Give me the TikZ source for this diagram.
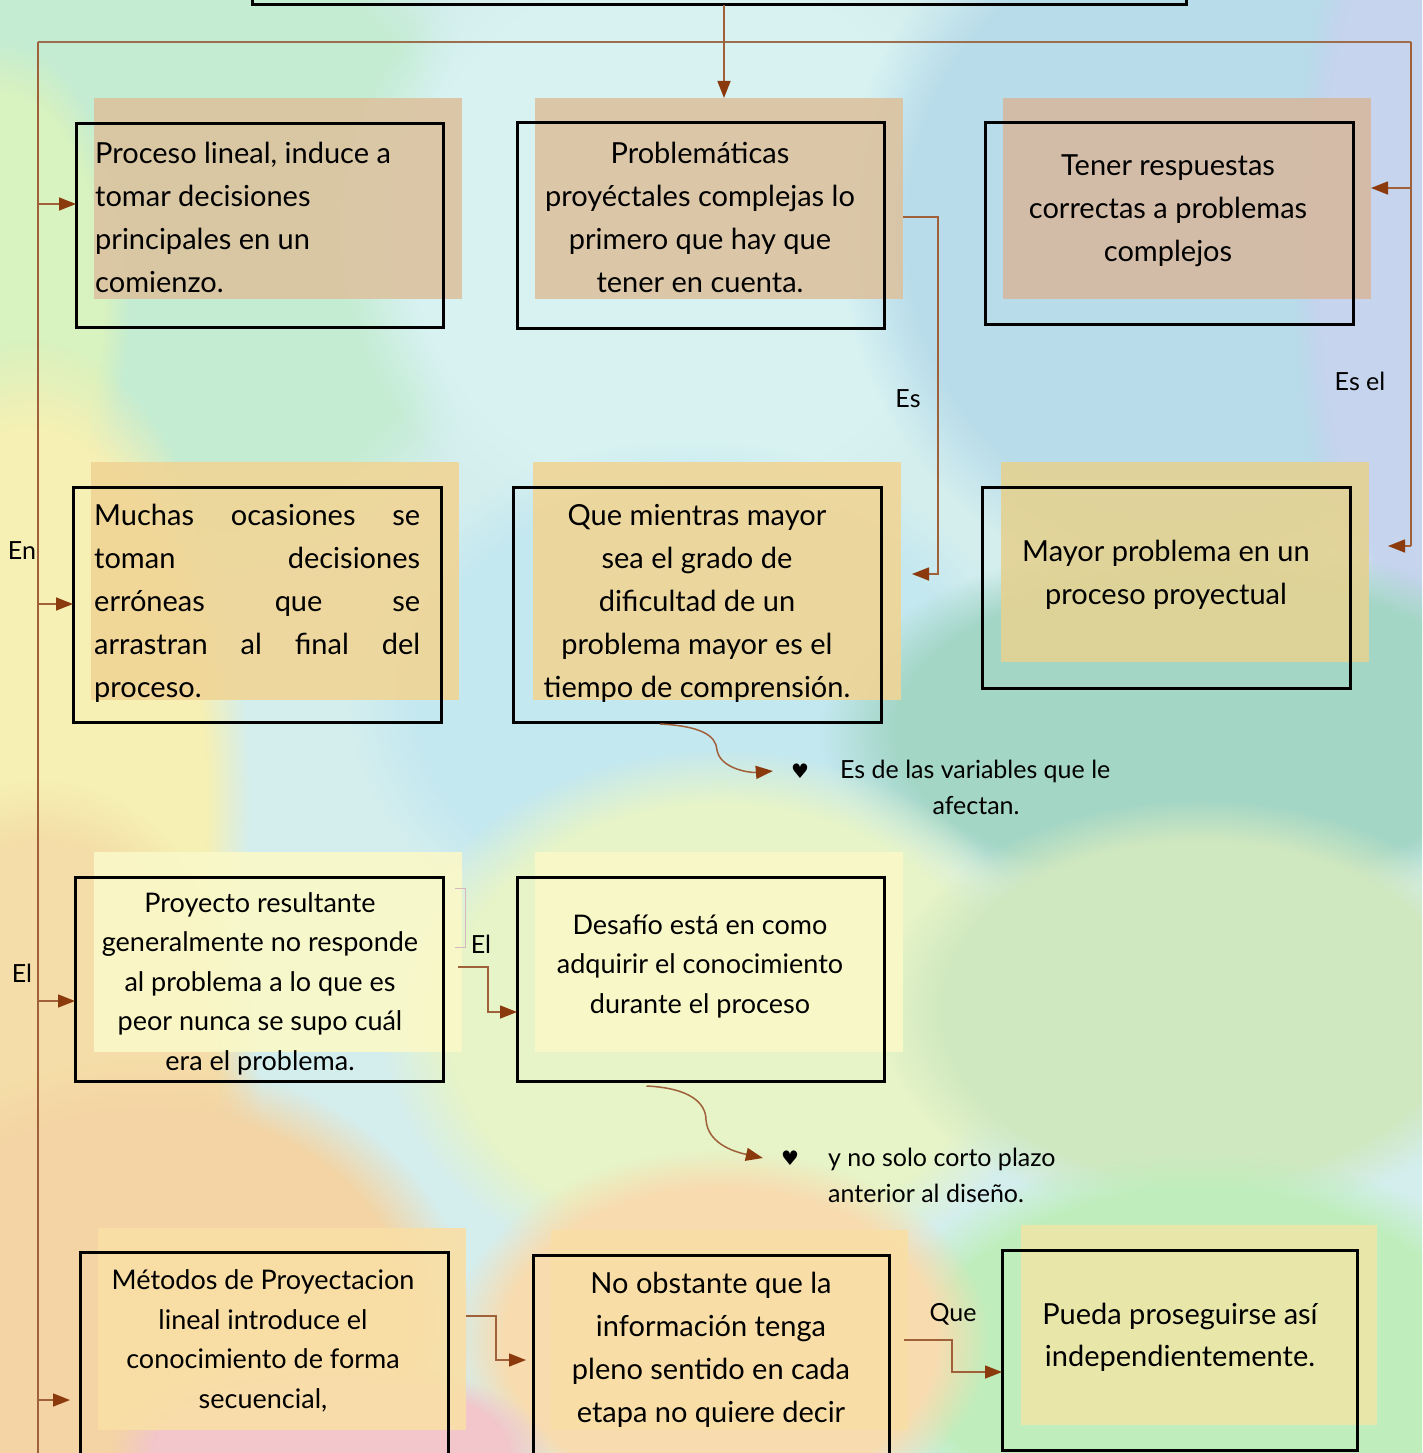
\documentclass[tikz,border=0pt]{standalone}
\usepackage{fontspec}
\setmainfont{Lato}
\newfontfamily\symf{DejaVu Sans}
\usetikzlibrary{arrows.meta,fadings}
\definecolor{bgbase}{HTML}{D4EEEE}
\definecolor{lbrown}{HTML}{A0603A}
\definecolor{tbrown}{HTML}{8B3A0E}
\definecolor{fTan}{HTML}{DCC3A0}
\definecolor{fTanR}{HTML}{D6B9A0}
\definecolor{fGold}{HTML}{F0D596}
\definecolor{fGoldR}{HTML}{E4D292}
\definecolor{fPale}{HTML}{FAF8C8}
\definecolor{fPeach}{HTML}{F9DFA6}
\definecolor{fPeachR}{HTML}{EDE7A8}
\definecolor{faintc}{HTML}{D6B6C0}
\definecolor{topline}{HTML}{9C6E4E}
\tikzset{
  blob/.style={fill=#1, path fading=circle with fuzzy edge 20 percent},
  fillr/.style={fill=#1, fill opacity=0.9, inner sep=0pt, outer sep=0pt, draw=none},
  box/.style={draw=black, line width=3pt, inner sep=0pt, outer sep=0pt},
  conn/.style={draw=lbrown, line width=1.5pt},
  arr/.style={conn, -{Triangle[length=17pt,width=13pt,color=tbrown]}},
  txt/.style={font=\fontsize{29}{43}\selectfont, align=center, inner sep=0pt},
  txtb/.style={font=\fontsize{27}{39.5}\selectfont, align=center, inner sep=0pt},
  lbl/.style={font=\fontsize{25}{28}\selectfont, inner sep=0pt},
  side/.style={font=\fontsize{25}{28}\selectfont, inner sep=0pt},
  heart/.style={font=\symf\fontsize{20}{22}\selectfont, inner sep=0pt}
}
\definecolor{bA}{HTML}{C4ECD2}
\definecolor{bB}{HTML}{D8F2C0}
\definecolor{bC}{HTML}{D8F2F2}
\definecolor{bD}{HTML}{B8DCEA}
\definecolor{bE}{HTML}{C6D4EE}
\definecolor{bF}{HTML}{C4E8F0}
\definecolor{bG}{HTML}{F6F0B4}
\definecolor{bH}{HTML}{A4D6C6}
\definecolor{bI}{HTML}{E6F4C8}
\definecolor{bJ}{HTML}{D0E8C0}
\definecolor{bK}{HTML}{BFEEBC}
\definecolor{bL}{HTML}{F4DDA8}
\definecolor{bM}{HTML}{F4D4A4}
\definecolor{bN}{HTML}{F8DCB0}
\definecolor{bO}{HTML}{F2C6CA}
\begin{document}
\begin{tikzpicture}[x=1pt,y=-1pt]
\useasboundingbox (0,0) rectangle (1422,1453);
\clip (0,0) rectangle (1422,1453);
% ---------- background ----------
\fill[bgbase] (0,0) rectangle (1422,1453);
\fill[blob=bA] (170,230) ellipse [x radius=360, y radius=360];
\fill[blob=bB] (0,300) ellipse [x radius=130, y radius=260];
\fill[blob=bC] (680,230) ellipse [x radius=340, y radius=330];
\fill[blob=bD] (1180,230) ellipse [x radius=340, y radius=360];
\fill[blob=bE] (1422,250) ellipse [x radius=130, y radius=420];
\fill[blob=bF] (690,700) ellipse [x radius=340, y radius=260];
\fill[blob=bG] (30,800) ellipse [x radius=220, y radius=460];
\fill[blob=bH] (1200,730) ellipse [x radius=380, y radius=190];
\fill[blob=bI] (720,1020) ellipse [x radius=340, y radius=270];
\fill[blob=bJ] (1200,1010) ellipse [x radius=320, y radius=210];
\fill[blob=bK] (1200,1360) ellipse [x radius=340, y radius=210];
\fill[blob=bL] (40,1100) ellipse [x radius=220, y radius=320];
\fill[blob=bM] (150,1320) ellipse [x radius=320, y radius=260];
\fill[blob=bN] (720,1340) ellipse [x radius=270, y radius=190];
\fill[blob=bO] (330,1450) ellipse [x radius=220, y radius=90];
% ---------- fill rectangles ----------
\node[fillr=fTan, minimum width=368pt, minimum height=201pt] (f1) at (278,198.5) {};
\node[fillr=fTan, minimum width=368pt, minimum height=201pt] (f2) at (719,198.5) {};
\node[fillr=fTanR, minimum width=368pt, minimum height=201pt] (f3) at (1187,198.5) {};
\node[fillr=fGold, minimum width=368pt, minimum height=238pt] (f4) at (275,581) {};
\node[fillr=fGold, minimum width=368pt, minimum height=238pt] (f5) at (717,581) {};
\node[fillr=fGoldR, minimum width=368pt, minimum height=200pt] (f6) at (1185,562) {};
\node[fillr=fPale, minimum width=368pt, minimum height=200pt] (f7) at (278,952) {};
\node[fillr=fPale, minimum width=368pt, minimum height=200pt] (f8) at (719,952) {};
\node[fillr=fPeach, minimum width=368pt, minimum height=202pt] (f10) at (282,1329) {};
\node[fillr=fPeach, minimum width=357pt, minimum height=200pt] (f11) at (729.5,1330) {};
\node[fillr=fPeachR, minimum width=356pt, minimum height=200pt] (f12) at (1199,1325) {};
% ---------- boxes ----------
\node[box, minimum width=934pt, minimum height=65pt] (top) at (719,-27.5) {};
\node[box, minimum width=367pt, minimum height=203pt] (b1) at (259.5,225.5) {};
\node[box, minimum width=367pt, minimum height=205pt] (b2) at (700.5,225.5) {};
\node[box, minimum width=368pt, minimum height=201pt] (b3) at (1169,223.5) {};
\node[box, minimum width=368pt, minimum height=235pt] (b4) at (257,604.5) {};
\node[box, minimum width=368pt, minimum height=235pt] (b5) at (697,604.5) {};
\node[box, minimum width=368pt, minimum height=201pt] (b6) at (1166,587.5) {};
\node[box, minimum width=368pt, minimum height=204pt] (b7) at (259,979) {};
\node[box, minimum width=367pt, minimum height=204pt] (b8) at (700.5,979) {};
\node[box, minimum width=368pt, minimum height=218pt] (b10) at (264,1361) {};
\node[box, minimum width=356pt, minimum height=215pt] (b11) at (711,1362.5) {};
\node[box, minimum width=355pt, minimum height=200pt] (b12) at (1179.5,1350) {};
% ---------- texts ----------
\node[txt, align=left, anchor=west] (t1) at (95,217.5) {Proceso lineal, induce a\\tomar decisiones\\principales en un\\comienzo.};
\node[txt] (t2) at (700,217) {Problemáticas\\proyéctales complejas lo\\primero que hay que\\tener en cuenta.};
\node[txt] (t3) at (1168,211) {Tener respuestas\\correctas a problemas\\complejos};
\node[txt, align=left, anchor=west] (t4) at (94,603) {\makebox[326pt][s]{Muchas ocasiones se}\\\makebox[326pt][s]{toman decisiones}\\\makebox[326pt][s]{erróneas que se}\\\makebox[326pt][s]{arrastran al final del}\\proceso.};
\node[txt] (t5) at (697,603) {Que mientras mayor\\sea el grado de\\dificultad de un\\problema mayor es el\\tiempo de comprensión.};
\node[txt] (t6) at (1166,574.5) {Mayor problema en un\\proceso proyectual};
\node[txtb] (t7) at (260,983.5) {Proyecto resultante\\generalmente no responde\\al problema a lo que es\\peor nunca se supo cuál\\era el problema.};
\node[txtb] (t8) at (700,966) {Desafío está en como\\adquirir el conocimiento\\durante el proceso};
\node[txtb] (t10) at (263,1341) {Métodos de Proyectacion\\lineal introduce el\\conocimiento de forma\\secuencial,};
\node[txt] (t11) at (711,1349.5) {No obstante que la\\información tenga\\pleno sentido en cada\\etapa no quiere decir};
\node[txt, font=\fontsize{29}{42}\selectfont] (t12) at (1180,1337) {Pueda proseguirse así\\independientemente.};
% ---------- side notes ----------
\node[heart] (h1) at (800,771) {♥};
\node[side, anchor=west] (s1) at (840,771) {Es de las variables que le};
\node[side] (s1b) at (976,806) {afectan.};
\node[heart] (h2) at (790,1158) {♥};
\node[side, anchor=west] (s2) at (828,1159) {y no solo corto plazo};
\node[side, anchor=west] (s2b) at (828,1193) {anterior al diseño.};
% ---------- labels ----------
\node[lbl] (lEn) at (22,551) {En};
\node[lbl] (lEl1) at (22,973) {El};
\node[lbl] (lEs) at (908,399) {Es};
\node[lbl] (lEsel) at (1360,381) {Es el};
\node[lbl] (lEl2) at (481,944) {El};
\node[lbl] (lQue) at (953,1314) {Que};
% ---------- connectors ----------
\coordinate (J) at (724,42);
\coordinate (TL) at (38,42);
\coordinate (TR) at (1411,42);
\coordinate (LB) at (38,1453);
\coordinate (L1) at (38,204);
\coordinate (L4) at (38,604);
\coordinate (L7) at (38,1001);
\coordinate (L10) at (38,1400);
\coordinate (R3) at (1411,188);
\coordinate (R6) at (1411,546);
\coordinate (M1) at (938,217);
\coordinate (M2) at (938,574);
\coordinate (E1) at (488,967);
\coordinate (E2) at (488,1012);
\coordinate (Q1) at (496,1316);
\coordinate (Q2) at (496,1360);
\coordinate (Q3) at (952,1340);
\coordinate (Q4) at (952,1372);
\draw[conn, line width=1.9pt, draw=topline] (TL) -- (TR);
\draw[arr] (top.south -| J) -- (J) -- (J |- f2.north);
\draw[conn] (TL) -- (LB);
\draw[arr] (L1) -- (L1 -| b1.west);
\draw[arr] (L4) -- (L4 -| b4.west);
\draw[arr] (L7) -- (L7 -| b7.west);
\draw[arr] (L10) -- ([xshift=-10pt]L10 -| b10.west);
\draw[conn] (TR) -- (R6);
\draw[arr] (R3) -- (R3 -| f3.east);
\draw[arr] (R6) -- ([xshift=19pt]R6 -| f6.east);
\draw[arr] (M1 -| f2.east) -- (M1) -- (M2) -- ([xshift=11pt]M2 -| f5.east);
\draw[arr] ([xshift=-4pt]E1 -| f7.east) -- (E1) -- (E2) -- (E2 -| b8.west);
\draw[arr] (Q1 -| f10.east) -- (Q1) -- (Q2) -- ([xshift=-7pt]Q2 -| b11.west);
\draw[arr] ([xshift=-4pt]Q3 -| f11.east) -- (Q3) -- (Q4) -- (Q4 -| b12.west);
\draw[arr] ([xshift=-37pt,yshift=-2pt]b5.south) .. controls (700,726) and (716,735) .. (717,750) .. controls (720,768) and (748,773) .. ([xshift=-18pt]h1.west);
\draw[arr] ([xshift=-54pt,yshift=-5pt]b8.south) .. controls (690,1088) and (706,1103) .. (706,1120) .. controls (708,1146) and (740,1153) .. ([xshift=-18pt]h2.west);
\draw[faintc, line width=0.8pt] (455,888) -- (465,888) -- (465,947) -- (455,947);
\end{tikzpicture}
\end{document}
